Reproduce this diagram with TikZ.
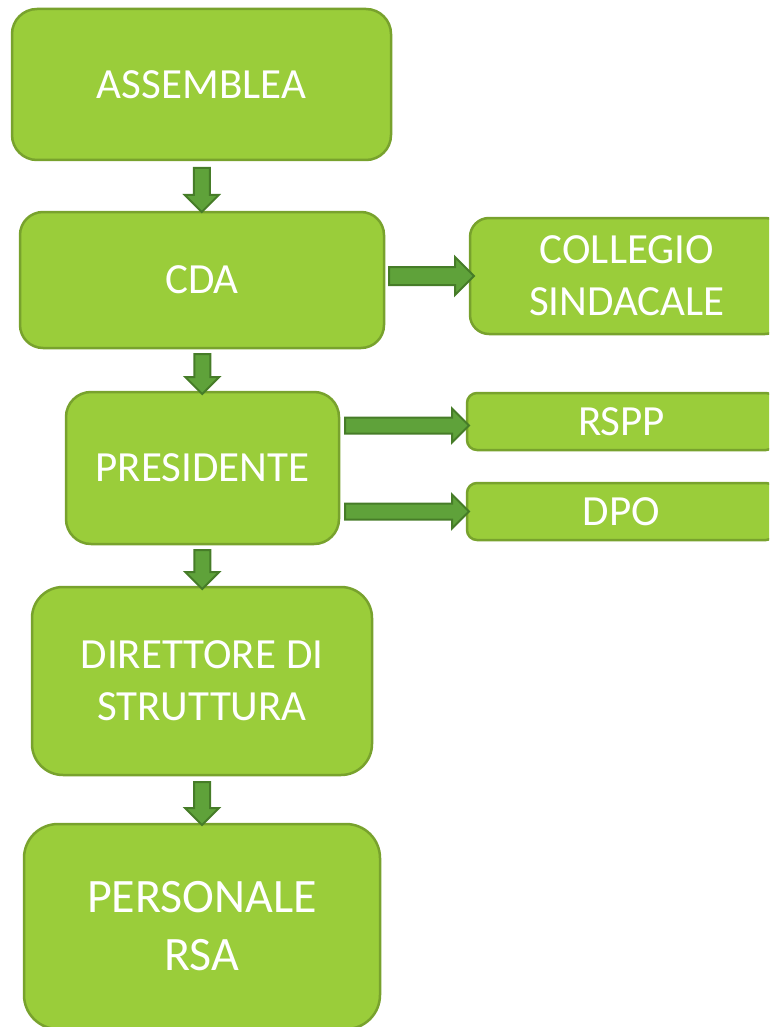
\documentclass[tikz,border=0pt]{standalone}
\usepackage{fontspec}
\setmainfont{Carlito}
\usetikzlibrary{shapes.arrows}

\definecolor{boxgreen}{HTML}{9ACD3A}
\definecolor{boxedge}{HTML}{78A22D}
\definecolor{arrowgreen}{HTML}{5FA23A}
\definecolor{arrowedge}{HTML}{467C28}

\begin{document}
\begin{tikzpicture}[x=1pt,y=-1pt,
    box/.style={draw=boxedge, fill=boxgreen, line width=2.5pt,
      text=white, align=center, inner sep=0pt,
      font=\fontsize{43}{52}\selectfont},
    flowarrow/.style={single arrow, draw=arrowedge, fill=arrowgreen,
      line width=2pt, inner xsep=0pt, inner ysep=7pt,
      single arrow head extend=9pt},
    downarrow/.style={flowarrow, rotate=-90}]
  \useasboundingbox (0,0) rectangle (769,1027);
  \clip (0,0) rectangle (769,1027);

  \node[box, minimum width=379pt, minimum height=151pt, rounded corners=25pt]
    (assemblea) at (201.5,84.5) {ASSEMBLEA};
  \node[box, minimum width=364pt, minimum height=136pt, rounded corners=23pt]
    (cda) at (202,280) {CDA};
  \node[box, minimum width=314pt, minimum height=116pt, rounded corners=19pt]
    (collegio) at (627,276) {COLLEGIO\\SINDACALE};
  \node[box, minimum width=273pt, minimum height=152pt, rounded corners=25pt]
    (presidente) at (202.5,468) {PRESIDENTE};
  \node[box, minimum width=309pt, minimum height=57pt, rounded corners=10pt]
    (rspp) at (621.5,421.5) {RSPP};
  \node[box, minimum width=309pt, minimum height=57pt, rounded corners=10pt]
    (dpo) at (621.5,511.5) {DPO};
  \node[box, minimum width=340pt, minimum height=188pt, rounded corners=31pt]
    (direttore) at (202,681) {DIRETTORE DI\\STRUTTURA};
  \node[box, minimum width=356pt, minimum height=205pt, rounded corners=34pt,
    font=\fontsize{48}{58}\selectfont]
    (personale) at (202,926.5) {PERSONALE\\RSA};

  \path (assemblea.south) -- (cda.north)
    node[downarrow, midway, minimum height=44pt] {};
  \path (cda.south) -- (presidente.north)
    node[downarrow, midway, minimum height=40pt] {};
  \path (presidente.south) -- (direttore.north)
    node[downarrow, midway, minimum height=39pt] {};
  \path (direttore.south) -- (personale.north)
    node[downarrow, midway, minimum height=43pt] {};
  \path (cda.east |- collegio) -- (collegio.west)
    node[flowarrow, midway, minimum height=85pt, inner ysep=8pt,
      single arrow head extend=10pt] {};
  \path ([yshift=-4pt]presidente.east |- rspp) -- ([yshift=-4pt]rspp.west)
    node[flowarrow, midway, minimum height=124pt] {};
  \path (presidente.east |- dpo) -- (dpo.west)
    node[flowarrow, midway, minimum height=124pt] {};
\end{tikzpicture}
\end{document}
